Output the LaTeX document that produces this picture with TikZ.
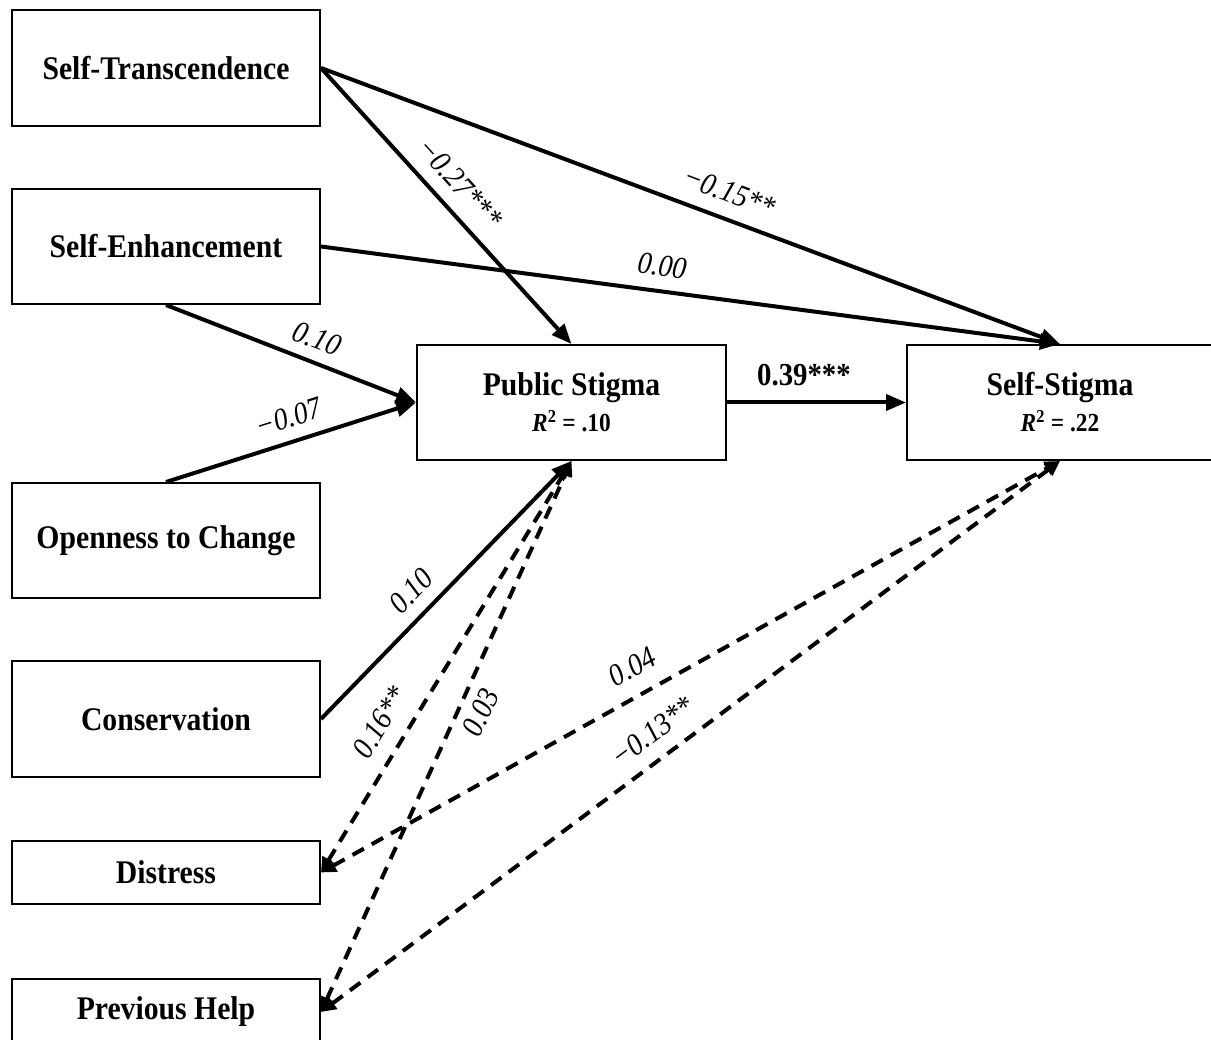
\documentclass[tikz,border=0pt]{standalone}
\usepackage{fontspec}
\setmainfont{Liberation Serif}[FakeStretch=0.9]
\usetikzlibrary{arrows.meta}
\newcommand\myrsq[1]{{\fontsize{26}{26}\selectfont\textit{R}\textsuperscript{2} = #1}}
\tikzset{
  box/.style={draw, line width=2pt, minimum width=308pt, inner sep=0pt,
    font=\fontsize{33}{36}\selectfont\bfseries, align=center},
  solidarrow/.style={line width=4pt, -{Triangle[length=20pt,width=16pt]}},
  dasharrow/.style={line width=4pt, dash pattern=on 13pt off 9pt,
    {Triangle[length=15pt,width=14pt]}-{Triangle[length=15pt,width=14pt]}},
  lab/.style={sloped, inner sep=0pt, font=\fontsize{31}{31}\selectfont\itshape},
  blab/.style={inner sep=0pt, font=\fontsize{32}{32}\selectfont\bfseries},
}
\begin{document}
\begin{tikzpicture}[x=1pt,y=-1pt]
\fill[white] (0,0) rectangle (1211,1040);
\useasboundingbox (0,0) rectangle (1211,1040);
\clip (0,0) rectangle (1211,1040);

\node[box, minimum height=116pt] (ST) at (166,68) {Self-Transcendence};
\node[box, minimum height=115pt] (SE) at (166,246.5) {Self-Enhancement};
\node[box, minimum height=115pt] (OC) at (166,540.5) {Openness to Change};
\node[box, minimum height=116pt] (CO) at (166,719) {Conservation};
\node[box, minimum height=63pt] (DI) at (166,872.5) {Distress};
\node[box, minimum height=66pt] (PH) at (166,1012) {Previous Help};
\node[box, minimum width=309pt, minimum height=115pt] (PS) at (571.5,402.5) {Public Stigma\\\myrsq{.10}};
\node[box, minimum width=306pt, minimum height=115pt] (SS) at (1060,402.5) {Self-Stigma\\\myrsq{.22}};

\draw[solidarrow] (ST.east) -- node[lab, pos=0.48, above=13pt] {−0.27***} (PS.north);
\draw[solidarrow] (ST.east) -- node[lab, pos=0.54, above=14pt] {−0.15**} (SS.north);
\draw[solidarrow] (SE.east) -- node[lab, pos=0.457, above=13pt] {0.00} (SS.north);
\draw[solidarrow] (SE.south) -- node[lab, pos=0.57, above=11pt] {0.10} (PS.west);
\draw[solidarrow] (OC.north) -- node[lab, pos=0.52, above=12pt] {−0.07} (PS.west);
\draw[solidarrow] (CO.east) -- node[lab, pos=0.43, above=12pt] {0.10} (PS.south);
\draw[solidarrow] (PS.east) -- node[blab, pos=0.43, above=15pt] {0.39***} (SS.west);

\draw[dasharrow] (DI.east) -- node[lab, pos=0.33, above=15pt] {0.16**} (PS.south);
\draw[dasharrow] (PH.east) -- node[lab, pos=0.56, below=9pt] {0.03} (PS.south);
\draw[dasharrow] (DI.east) -- node[lab, pos=0.44, above=16pt] {0.04} (SS.south);
\draw[dasharrow] (PH.east) -- node[lab, pos=0.47, above=14pt] {−0.13**} (SS.south);
\end{tikzpicture}
\end{document}
